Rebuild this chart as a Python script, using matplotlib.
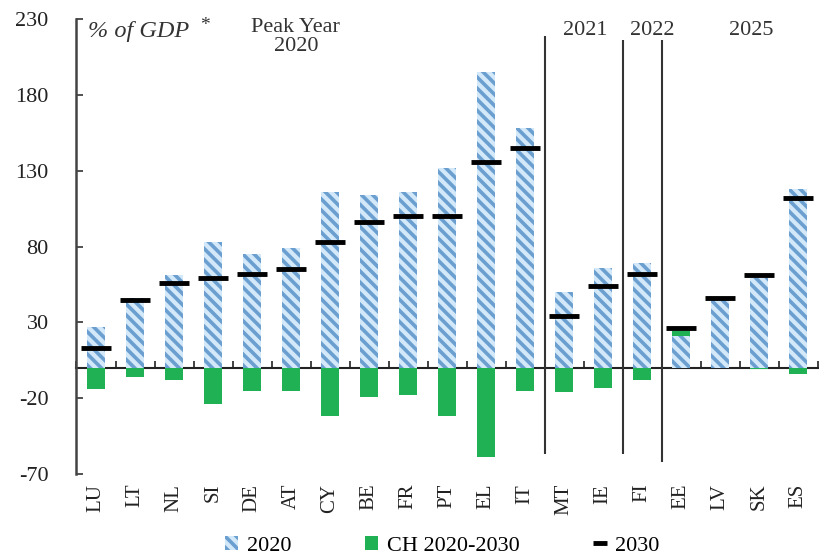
import numpy as np
import matplotlib.pyplot as plt
from matplotlib.patches import Patch

countries = ["LU", "LT", "NL", "SI", "DE", "AT", "CY", "BE", "FR", "PT",
             "EL", "IT", "MT", "IE", "FI", "EE", "LV", "SK", "ES"]
debt_2020 = [27, 46, 61, 83, 75, 79, 116, 114, 116, 132,
             195, 158, 50, 66, 69, 21, 46, 59, 118]
change_20_30 = [-14, -6, -8, -24, -15, -15, -32, -19, -18, -32,
                -59, -15, -16, -13, -8, 3, 0, -1, -4]
debt_2030 = [13, 45, 56, 59, 62, 65, 83, 96, 100, 100,
             136, 145, 34, 54, 62, 26, 46, 61, 112]

# peak-year groups: boundaries after these category indices
group_breaks = [11.5, 13.5, 14.5]
group_labels = ["2021", "2022", "2025"]

plt.rcParams['font.family'] = ['Liberation Serif', 'DejaVu Serif']
plt.rcParams['axes.unicode_minus'] = False
plt.rcParams['hatch.linewidth'] = 2.6

light_blue = '#d3e8f8'
hatch_blue = '#6a9fd0'
green = '#1fb153'

x = np.arange(len(countries))
ch = np.array(change_20_30)
base = np.where(ch > 0, np.array(debt_2020), 0)

fig = plt.figure(figsize=(8.19, 5.59), dpi=100)
ax = fig.add_axes([0.0934, 0.152, 0.905, 0.814])

ax.bar(x, debt_2020, width=0.45, color=light_blue, edgecolor=hatch_blue,
       linewidth=0, hatch='\\\\\\', label='2020', zorder=2)
ax.bar(x, ch, width=0.45, bottom=base, color=green, edgecolor='none',
       label='CH 2020-2030', zorder=3)
ax.plot(x, debt_2030, ls='none', marker='_', ms=22, mew=3.5, color='black',
        label='2030', zorder=4)

ax.set_xlim(-0.5, len(countries) - 0.5)
ax.set_ylim(-70, 230)
ax.set_yticks([230, 180, 130, 80, 30, -20, -70])
ax.tick_params(axis='y', direction='in', length=5, labelsize=16, pad=20,
               colors='#333333', labelcolor='#222222', width=1.2)
ax.set_xticks(x, countries, rotation=90, fontsize=15)
ax.tick_params(axis='x', length=0, pad=7, labelcolor='#222222')

for s in ['top', 'right', 'bottom']:
    ax.spines[s].set_visible(False)
ax.spines['left'].set_linewidth(1.8)
ax.spines['left'].set_color('#444444')

# zero line with ticks at category boundaries
zero = ax.secondary_xaxis(0, transform=ax.transData)
zero.set_xticks(np.arange(len(countries) + 1) - 0.5, labels=[])
zero.tick_params(direction='in', length=5, width=1.2, colors='#222222')
zero.spines['bottom'].set_linewidth(1.5)
zero.spines['bottom'].set_color('#222222')

ax.vlines(group_breaks, [-57, -57, -62], [219, 216, 216],
          colors='#333333', lw=1.5, zorder=5)

ax.text(0.015, 0.995, '% of GDP', transform=ax.transAxes, fontsize=17.5,
        style='italic', va='top', ha='left', color='#333333')
ax.text(0.167, 1.005, '*', transform=ax.transAxes, fontsize=14,
        va='top', ha='left', color='#333333')
ax.text(0.296, 1.003, 'Peak Year\n2020', transform=ax.transAxes, fontsize=16,
        va='top', ha='center', linespacing=1.0, color='#333333')
for bx, lab in zip([12.55, 14.25, 16.8], group_labels):
    ax.text(bx, 229, lab, fontsize=16, ha='center', va='top', color='#333333')

handles = [Patch(facecolor=light_blue, hatch='\\\\\\', edgecolor=hatch_blue, linewidth=0),
           Patch(facecolor=green),
           plt.Line2D([], [], ls='none', marker='_', ms=10, mew=3.5, color='black')]
fig.legend(handles, ['2020', 'CH 2020-2030', '2030'], loc='lower center',
           bbox_to_anchor=(0.54, -0.03), ncol=3, frameon=False, fontsize=16,
           handlelength=0.6, handleheight=0.6, handletextpad=0.4, columnspacing=3.3)

fig.savefig('out.png', dpi=100)
